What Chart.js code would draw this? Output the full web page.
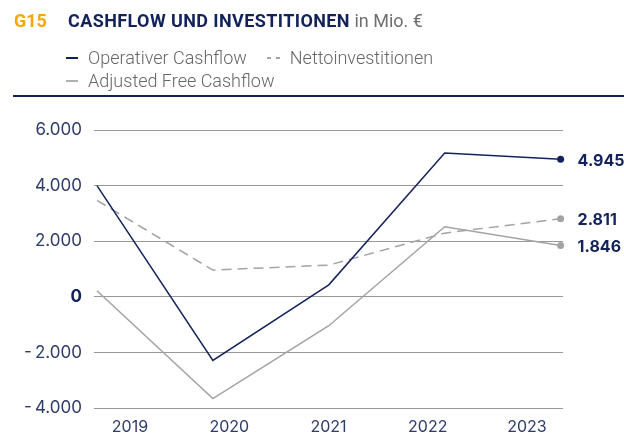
<!DOCTYPE html>
<html lang="de">
<head>
    <meta charset="UTF-8">
    <title>Cashflow und Investitionen</title>
    <style>
        body {
            margin: 0;
            padding: 0;
            background: #fff;
            font-family: "Roboto", sans-serif;
        }

        #wrap {
            position: relative;
            width: 624px;
            height: 437px;
            overflow: hidden;
        }

        #chart {
            position: absolute;
            left: 0;
            top: 0;
        }

        .title {
            position: absolute;
            top: 9px;
            left: 14px;
            font-size: 18px;
            line-height: 24px;
            white-space: nowrap;
        }

        .title .num {
            color: #f5a800;
            font-weight: 700;
            display: inline-block;
            width: 54px;
        }

        .title .main {
            color: #13235a;
            font-weight: 700;
            letter-spacing: 0.4px;
        }

        .title .unit {
            color: #6f6f6f;
        }

        .legend {
            position: absolute;
            left: 66px;
            font-size: 18px;
            font-weight: 300;
            color: #666;
            line-height: 22px;
            white-space: nowrap;
        }

        .legend span.mark {
            display: inline-block;
            width: 12px;
            height: 2px;
            vertical-align: middle;
            margin-right: 10px;
            position: relative;
            top: -1px;
        }

        .rule {
            position: absolute;
            left: 13px;
            right: 0;
            top: 95px;
            height: 2px;
            background: #13235a;
        }
    </style>
    <script src="https://cdn.jsdelivr.net/npm/chart.js"></script>
</head>
<body>
<div id="wrap">
    <canvas id="chart" width="624" height="437"></canvas>
    <div class="title"><span class="num">G15</span><span class="main">CASHFLOW UND INVESTITIONEN</span> <span class="unit">in Mio. €</span></div>
    <div class="legend" style="top:47px">
        <span class="mark" style="background:#13235a"></span>Operativer Cashflow<span class="mark" style="width:13px; background:repeating-linear-gradient(to right, #a3a3a3 0 4px, transparent 4px 9px); margin-left:20px"></span>Nettoinvestitionen
    </div>
    <div class="legend" style="top:70px">
        <span class="mark" style="background:#b0b0b0"></span>Adjusted Free Cashflow
    </div>
    <div class="rule"></div>
</div>

<script>
    // values in Mio. €
    const years = ['2019', '2020', '2021', '2022', '2023'];
    const operativerCashflow = [4000, -2290, 430, 5170, 4945];
    const nettoinvestitionen = [3470, 960, 1140, 2290, 2811];
    const adjustedFreeCashflow = [220, -3660, -1040, 2520, 1846];
    const endLabels = ['4.945', '2.811', '1.846'];
    const yTicks = [-4000, -2000, 0, 2000, 4000, 6000];

    const navy = '#13235a';
    const grey = '#a3a3a3';
    const last = years.length - 1;

    function toPoints(values) {
        return values.map((v, i) => ({ x: i, y: v }));
    }

    function formatNumber(v) {
        const abs = Math.abs(v).toString().replace(/\B(?=(\d{3})+(?!\d))/g, '.');
        return v < 0 ? '-\u2009' + abs : abs;
    }

    function isZero(c) {
        return c.tick && c.tick.value === 0;
    }

    const endLabelPlugin = {
        id: 'endLabels',
        afterDatasetsDraw(chart) {
            const ctx = chart.ctx;
            ctx.save();
            ctx.font = '700 16px Inter, Roboto, sans-serif';
            ctx.fillStyle = navy;
            ctx.textBaseline = 'middle';
            chart.data.datasets.forEach((ds, i) => {
                const pt = chart.getDatasetMeta(i).data[last];
                ctx.fillText(endLabels[i], pt.x + 17, pt.y + 2);
            });
            ctx.restore();
        }
    };

    const lineStyle = (color, dash) => ({
        borderColor: color,
        backgroundColor: color,
        borderWidth: 1.5,
        borderDash: dash,
        pointRadius: c => c.dataIndex === last ? 3.5 : 0,
        pointBorderWidth: 0,
        tension: 0,
        clip: false
    });

    new Chart(document.getElementById('chart'), {
        type: 'line',
        data: {
            datasets: [
                Object.assign({ label: 'Operativer Cashflow', data: toPoints(operativerCashflow) }, lineStyle(navy, [])),
                Object.assign({ label: 'Nettoinvestitionen', data: toPoints(nettoinvestitionen) }, lineStyle(grey, [10, 6])),
                Object.assign({ label: 'Adjusted Free Cashflow', data: toPoints(adjustedFreeCashflow) }, lineStyle(grey, []))
            ]
        },
        options: {
            responsive: false,
            animation: false,
            events: [],
            layout: { padding: { top: 130, right: 61, bottom: 0, left: 0 } },
            plugins: {
                legend: { display: false },
                tooltip: { enabled: false }
            },
            scales: {
                x: {
                    type: 'linear',
                    display: false,
                    min: -0.0256,
                    max: 4.0205
                },
                years: {
                    type: 'linear',
                    position: 'bottom',
                    min: -0.3627,
                    max: 4.363,
                    afterBuildTicks: s => { s.ticks = years.map((y, i) => ({ value: i })); },
                    afterFit: s => { s.height = 29; },
                    grid: { display: false },
                    border: { display: false },
                    ticks: {
                        padding: 2,
                        maxRotation: 0,
                        autoSkip: false,
                        color: '#2e3b6b',
                        font: { family: 'Inter, Roboto, sans-serif', size: 16 },
                        callback: v => years[v]
                    }
                },
                y: {
                    min: -4000,
                    max: 6000,
                    afterBuildTicks: s => { s.ticks = yTicks.map(v => ({ value: v })); },
                    afterFit: s => { s.width = 94; },
                    border: { display: false },
                    grid: { color: '#999', lineWidth: 1, drawTicks: false },
                    ticks: {
                        padding: 12,
                        color: c => isZero(c) ? navy : '#2e3b6b',
                        font: c => ({
                            family: 'Inter, Roboto, sans-serif',
                            size: 17,
                            weight: isZero(c) ? '700' : '400'
                        }),
                        callback: v => formatNumber(v)
                    }
                }
            }
        },
        plugins: [endLabelPlugin]
    });
</script>
</body>
</html>
